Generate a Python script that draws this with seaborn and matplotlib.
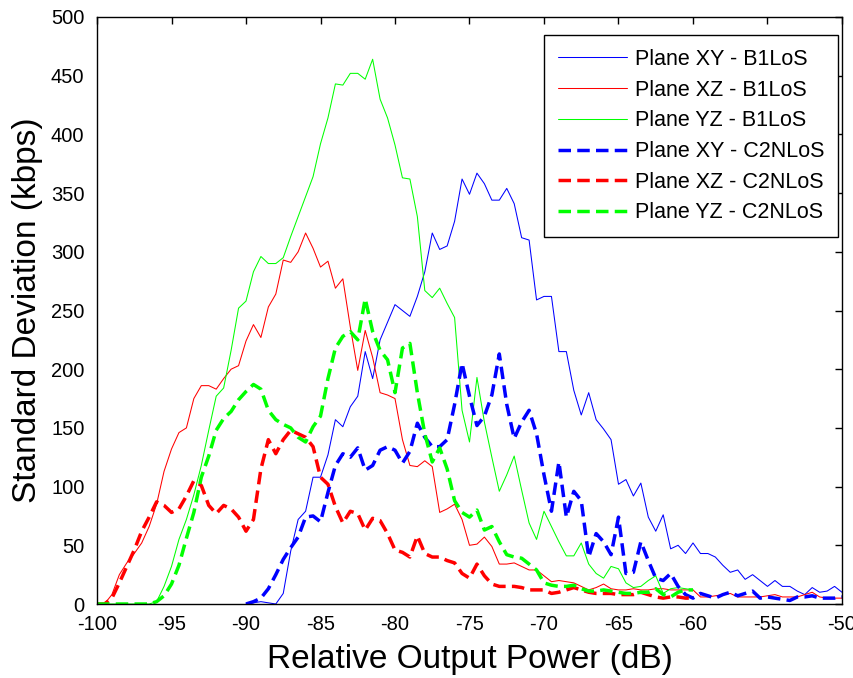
import numpy as np
import pandas as pd
import matplotlib
matplotlib.use("Agg")
import matplotlib.pyplot as plt
import seaborn as sns

# ---------------- data ----------------
x_full = np.arange(-100, -49.75, 0.5)      # -100 ... -50
x_hi = np.arange(-90, -49.75, 0.5)         # -90 ... -50
x_lo = np.arange(-100, -59.75, 0.5)        # -100 ... -60

xy_b1los = [0, 1, 2, 1, 0, 9, 45, 72, 79, 108,
            108, 127, 157, 151, 168, 177, 215, 192, 225, 240,
            255, 250, 245, 262, 283, 316, 302, 305, 326, 362,
            349, 367, 358, 344, 344, 354, 341, 312, 310, 259,
            262, 262, 215, 215, 182, 161, 180, 157, 149, 140,
            102, 106, 92, 103, 74, 62, 76, 47, 50, 43,
            52, 43, 43, 40, 33, 27, 29, 21, 25, 20,
            15, 20, 15, 15, 11, 8, 14, 10, 11, 15,
            10]

xz_b1los = [0, 0, 8, 25, 35, 43, 52, 66, 85, 113,
            132, 146, 150, 175, 186, 186, 183, 192, 200, 203,
            224, 238, 227, 253, 264, 293, 291, 300, 316, 303,
            287, 292, 269, 277, 236, 199, 233, 210, 180, 178,
            175, 140, 118, 117, 122, 117, 78, 81, 85, 72,
            50, 51, 57, 49, 34, 34, 35, 32, 29, 29,
            24, 19, 20, 19, 18, 15, 12, 14, 17, 13,
            12, 12, 13, 12, 12, 13, 13, 12, 12, 12,
            12, 6, 6, 7, 8, 9, 6, 6, 6, 6,
            7, 8, 6, 6, 6, 8, 10, 6, 5, 5,
            5]

yz_b1los = [0, 0, 0, 0, 0, 0, 0, 0, 2, 15,
            32, 55, 72, 93, 118, 148, 177, 184, 216, 252,
            258, 283, 296, 290, 290, 295, 313, 330, 347, 364,
            392, 414, 443, 442, 452, 452, 447, 464, 430, 414,
            391, 363, 362, 330, 267, 261, 269, 256, 244, 165,
            138, 193, 155, 125, 96, 110, 126, 97, 69, 55,
            79, 66, 53, 41, 41, 52, 34, 26, 22, 32,
            30, 18, 14, 15, 20, 24, 9, 13, 14, 13,
            12]

xy_c2nlos = [0, 2, 5, 13, 25, 38, 48, 57, 74, 75,
             70, 95, 118, 128, 125, 133, 114, 118, 131, 134,
             131, 120, 130, 154, 142, 134, 134, 140, 170, 205,
             177, 152, 160, 178, 213, 170, 141, 155, 165, 145,
             110, 79, 121, 74, 96, 88, 40, 60, 53, 42,
             74, 26, 27, 53, 37, 22, 20, 26, 15, 8,
             5, 9, 7, 5, 8, 10, 7, 9, 11, 5,
             6, 5, 4, 3, 6, 6, 7, 5, 5, 5,
             6]

xz_c2nlos = [0, 0, 5, 18, 32, 46, 62, 74, 87, 84,
             78, 81, 92, 105, 101, 84, 77, 84, 81, 74,
             62, 72, 115, 140, 128, 140, 148, 145, 142, 134,
             108, 102, 83, 69, 79, 77, 63, 73, 71, 60,
             46, 44, 40, 58, 43, 40, 40, 37, 35, 26,
             22, 34, 24, 17, 15, 15, 15, 14, 12, 12,
             12, 9, 10, 12, 14, 12, 10, 9, 9, 9,
             8, 8, 8, 10, 8, 6, 5, 6, 6, 5,
             5]

yz_c2nlos = [0, 0, 0, 0, 0, 0, 0, 0, 2, 7,
             17, 33, 56, 78, 108, 126, 148, 158, 164, 174,
             181, 187, 183, 165, 157, 153, 150, 142, 138, 151,
             160, 192, 218, 228, 232, 225, 260, 232, 216, 208,
             180, 218, 222, 180, 145, 121, 133, 115, 88, 78,
             74, 80, 63, 66, 53, 42, 40, 39, 34, 29,
             18, 16, 15, 15, 16, 13, 11, 11, 12, 11,
             10, 9, 9, 10, 10, 13, 8, 6, 10, 12,
             12]

labels = ["Plane XY - B1LoS", "Plane XZ - B1LoS", "Plane YZ - B1LoS",
          "Plane XY - C2NLoS", "Plane XZ - C2NLoS", "Plane YZ - C2NLoS"]
xticks = list(range(-100, -49, 5))
yticks = list(range(0, 501, 50))

# ---------------- style ----------------
sns.set_theme(style="white")
plt.rcParams["font.family"] = ["Liberation Sans", "DejaVu Sans"]
plt.rcParams["axes.unicode_minus"] = False

fig = plt.figure(figsize=(8.54, 6.78), dpi=100)
ax = fig.add_axes([97 / 854, 1 - 604 / 678, 745 / 854, 587 / 678])

series = [
    (x_hi, xy_b1los, "#0000ff", 0.75, None),
    (x_full, xz_b1los, "#ff0000", 0.75, None),
    (x_lo, yz_b1los, "#00ff00", 0.75, None),
    (x_hi, xy_c2nlos, "#0000ff", 2.5, (3.6, 1.8)),
    (x_lo, xz_c2nlos, "#ff0000", 2.5, (3.6, 1.8)),
    (x_lo, yz_c2nlos, "#00ff00", 2.5, (3.6, 1.8)),
]

handles = []
for (xs, ys, col, lw, dash), lab in zip(series, labels):
    df = pd.DataFrame({"x": xs, "y": ys})
    kw = {}
    if dash is not None:
        kw["linestyle"] = (0, dash)
    n_before = len(ax.lines)
    sns.lineplot(data=df, x="x", y="y", ax=ax, color=col, linewidth=lw,
                 label=lab, errorbar=None, legend=False, **kw)
    handles.append(ax.lines[n_before])

ax.set_xlim(-100, -50)
ax.set_ylim(0, 500)
ax.set_xticks(xticks)
ax.set_yticks(yticks)
ax.set_xticklabels([str(t) for t in xticks])
ax.set_yticklabels([str(t) for t in yticks])
ax.tick_params(direction="in", length=5, width=1, top=True, right=True,
               labelsize=14.5, colors="black")
ax.tick_params(axis="y", pad=9)
ax.tick_params(axis="x", pad=8)
for sp in ax.spines.values():
    sp.set_visible(True)
    sp.set_color("black")
    sp.set_linewidth(1.0)

ax.set_xlabel("Relative Output Power (dB)", fontsize=24, color="black", labelpad=7)
ax.set_ylabel("Standard Deviation (kbps)", fontsize=24, color="black", labelpad=6)

leg = ax.legend(handles=handles, labels=labels, loc="upper right",
                bbox_to_anchor=((838 - 97) / 745, (604 - 35) / 587),
                borderaxespad=0, fontsize=15.5, frameon=True, fancybox=False,
                framealpha=1, edgecolor="black", handlelength=3.2,
                handletextpad=0.37, labelspacing=0.45, borderpad=0.65)
leg.get_frame().set_linewidth(1.0)
for t in leg.get_texts():
    t.set_color("black")

fig.savefig("out.png", dpi=100)
